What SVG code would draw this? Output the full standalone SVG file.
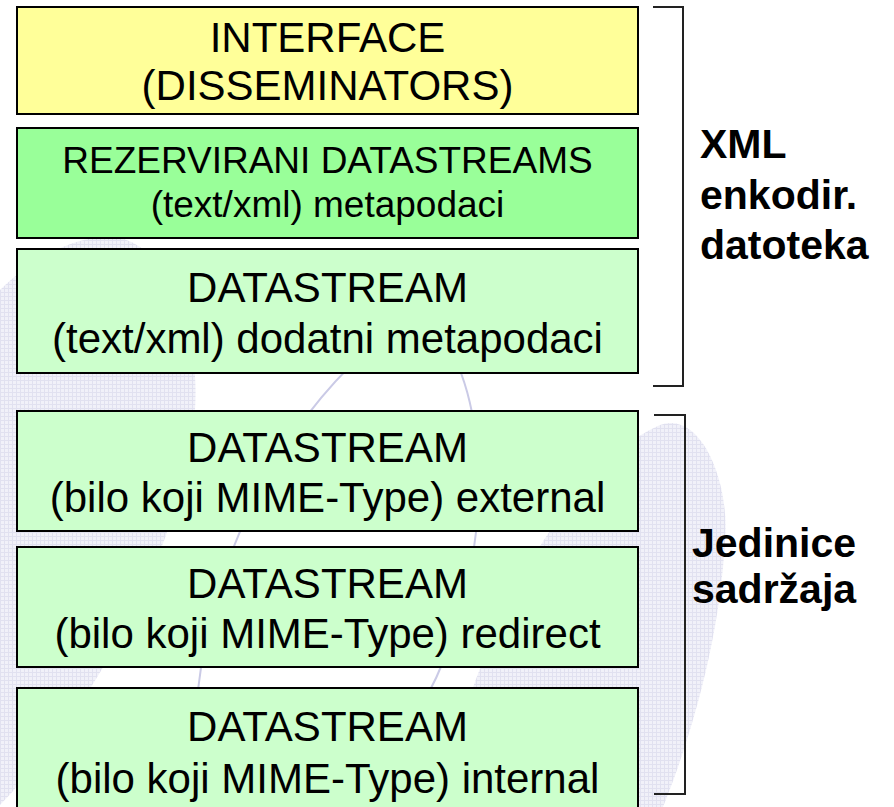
<svg xmlns="http://www.w3.org/2000/svg" width="894" height="807" viewBox="0 0 894 807">
<defs>
<pattern id="grid" width="4" height="4" patternUnits="userSpaceOnUse">
<rect width="4" height="4" fill="#F1F1F9"/>
<path d="M0,0.5 H4 M0.5,0 V4" stroke="#E1E1F0" stroke-width="1"/>
</pattern>
<style>
.box{stroke:#000;stroke-width:2}
.yellow{fill:#FFFF99}
.green{fill:#99FF99}
.light{fill:#CCFFCC}
.t{font-family:"Liberation Sans",Arial,sans-serif;fill:#000;text-anchor:middle}
.lbl{font-family:"Liberation Sans",Arial,sans-serif;font-weight:bold;fill:#000;font-size:41px}
.br{fill:none;stroke:#222;stroke-width:2}
.swoosh{fill:none;stroke:#CACAE6;stroke-width:2}
</style>
</defs>
<rect width="894" height="807" fill="#FFFFFF"/>
<g id="background">
<path d="M0,290 C40,250 90,232 120,238 C170,250 200,330 195,410 C188,520 110,690 0,805 Z" fill="url(#grid)"/>
<path d="M440,807 C470,650 560,470 660,425 C700,410 730,480 725,540 C720,640 690,740 663,807 Z" fill="url(#grid)"/>
<path class="swoosh" d="M365,352 C290,420 215,540 198,690 L192,807"/>
<path class="swoosh" d="M445,340 C495,420 490,580 425,700 Q400,760 385,807"/>
</g>
<g id="connectors">
<path class="br" d="M653,7 H683 V386 H653"/>
<path class="br" d="M654,415 H685 V794 H654"/>
</g>
<g id="interface">
<rect class="box yellow" x="17" y="7" width="621" height="107"/>
<text class="t" x="327.5" y="52" font-size="42">INTERFACE</text>
<text class="t" x="327.5" y="100" font-size="42">(DISSEMINATORS)</text>
</g>
<g id="rezervirani">
<rect class="box green" x="17" y="128" width="621" height="110"/>
<text class="t" x="327.5" y="173" font-size="37">REZERVIRANI DATASTREAMS</text>
<text class="t" x="327.5" y="217" font-size="37">(text/xml) metapodaci</text>
</g>
<g id="datastream-xml">
<rect class="box light" x="17" y="249" width="621" height="124"/>
<text class="t" x="327.5" y="302" font-size="42">DATASTREAM</text>
<text class="t" x="327.5" y="353" font-size="42">(text/xml) dodatni metapodaci</text>
</g>
<g id="datastream-external">
<rect class="box light" x="17" y="411" width="621" height="120"/>
<text class="t" x="327.5" y="462" font-size="42">DATASTREAM</text>
<text class="t" x="327.5" y="512" font-size="42">(bilo koji MIME-Type) external</text>
</g>
<g id="datastream-redirect">
<rect class="box light" x="17" y="547" width="621" height="120"/>
<text class="t" x="327.5" y="598" font-size="42">DATASTREAM</text>
<text class="t" x="327.5" y="648" font-size="42">(bilo koji MIME-Type) redirect</text>
</g>
<g id="datastream-internal">
<rect class="box light" x="17" y="688" width="621" height="130"/>
<text class="t" x="327.5" y="741" font-size="42">DATASTREAM</text>
<text class="t" x="327.5" y="793" font-size="42">(bilo koji MIME-Type) internal</text>
</g>
<g id="label-xml">
<text class="lbl" x="700" y="158">XML</text>
<text class="lbl" x="700" y="209">enkodir.</text>
<text class="lbl" x="700" y="259">datoteka</text>
</g>
<g id="label-jedinice">
<text class="lbl" x="692" y="557">Jedinice</text>
<text class="lbl" x="692" y="603">sadržaja</text>
</g>
</svg>
